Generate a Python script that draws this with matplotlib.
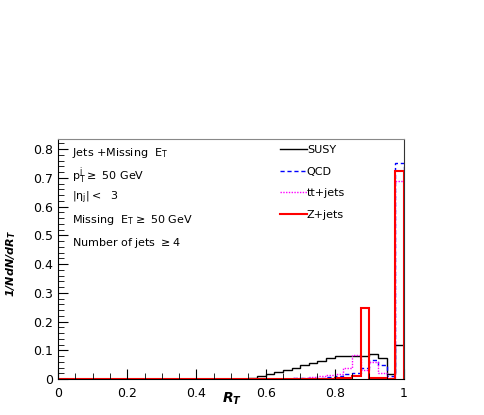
import numpy as np
import matplotlib.pyplot as plt
from matplotlib.ticker import MultipleLocator

# 40 bins of width 0.025 on R_T in [0, 1]
bin_edges = np.linspace(0.0, 1.0, 41)

# non-zero bins only, keyed by bin index
susy_bins = {21: 0.001, 22: 0.005, 23: 0.010, 24: 0.017, 25: 0.025, 26: 0.033,
             27: 0.040, 28: 0.048, 29: 0.056, 30: 0.064, 31: 0.072, 32: 0.080,
             33: 0.080, 34: 0.080, 35: 0.080, 36: 0.086, 37: 0.072, 38: 0.018,
             39: 0.120}
qcd_bins = {26: 0.001, 27: 0.002, 28: 0.003, 29: 0.004, 30: 0.005, 31: 0.008,
            32: 0.012, 33: 0.017, 34: 0.022, 35: 0.040, 36: 0.066, 37: 0.050,
            38: 0.012, 39: 0.750}
tt_bins = {27: 0.002, 28: 0.004, 29: 0.006, 30: 0.010, 31: 0.014, 32: 0.017,
           33: 0.037, 34: 0.085, 35: 0.030, 36: 0.060, 37: 0.020, 38: 0.005,
           39: 0.690}
zjets_bins = {31: 0.001, 32: 0.003, 33: 0.003, 34: 0.012, 35: 0.248, 36: 0.005,
              37: 0.004, 38: 0.001, 39: 0.722}

labels = ['SUSY', 'QCD', 'tt+jets', 'Z+jets']

info_lines = [r'Jets +Missing  E$_\mathrm{T}$',
              r'p$_\mathrm{T}^\mathrm{j}$$\geq$ 50 GeV',
              r'|$\mathrm{\eta}_\mathrm{j}$|$<$  3',
              r'Missing  E$_\mathrm{T}$$\geq$ 50 GeV',
              r'Number of jets $\geq$4']


def to_hist(bins):
    h = np.zeros(len(bin_edges) - 1)
    for k, v in bins.items():
        h[k] = v
    return h


plt.rcParams['mathtext.fontset'] = 'custom'
plt.rcParams['mathtext.it'] = 'DejaVu Sans:italic:bold'
plt.rcParams['mathtext.rm'] = 'DejaVu Sans'

fig = plt.figure(figsize=(4.85, 4.15), dpi=100)
ax = fig.add_axes([58/485, 1-379/415, 346/485, 240/415])

ax.stairs(to_hist(susy_bins), bin_edges, color='black', lw=1.0, label=labels[0], baseline=0)
ax.stairs(to_hist(qcd_bins), bin_edges, color='#0000ff', lw=1.0, ls=(0, (3, 2)), label=labels[1], baseline=0)
ax.stairs(to_hist(tt_bins), bin_edges, color='#ff00ff', lw=1.0, ls=(0, (1, 1)), label=labels[2], baseline=0)
ax.stairs(to_hist(zjets_bins), bin_edges, color='#ff0000', lw=1.5, label=labels[3], baseline=0)

ax.set_xlim(0, 1)
ax.set_ylim(0, 0.835)
ax.xaxis.set_major_locator(MultipleLocator(0.2))
ax.xaxis.set_minor_locator(MultipleLocator(0.05))
ax.yaxis.set_major_locator(MultipleLocator(0.1))
ax.yaxis.set_minor_locator(MultipleLocator(0.02))
ax.xaxis.set_major_formatter(plt.FuncFormatter(lambda v, p: f'{v:g}'))
ax.yaxis.set_major_formatter(plt.FuncFormatter(lambda v, p: f'{v:g}'))
ax.tick_params(which='both', direction='in', top=False, right=False, labelsize=9)
ax.tick_params(which='major', length=7, width=0.8)
ax.tick_params(which='minor', length=4, width=0.6)
ax.tick_params(axis='x', pad=6)
ax.spines['top'].set_color('#888888')
ax.spines['right'].set_color('#333333')
ax.spines['bottom'].set_color('black')

ax.set_xlabel(r'R$_T$', fontsize=10, fontstyle='italic', fontweight='bold')
ax.xaxis.set_label_coords(0.503, -0.05)
ax.set_ylabel(r'1/NdN/dR$_T$', fontsize=8, fontstyle='italic', fontweight='bold')
ax.yaxis.set_label_coords(-0.115, 0.48)

for i, line in enumerate(info_lines):
    ax.text(0.04, 0.94 - i * 0.093, line, transform=ax.transAxes, fontsize=8, va='center')

ax.legend(loc='upper left', bbox_to_anchor=(0.642, 0.975), frameon=False, fontsize=8,
          handlelength=2.4, handletextpad=0.0, labelspacing=1.05, borderpad=0,
          borderaxespad=0, handles=[plt.Line2D([], [], color=c, lw=w, ls=s) for c, w, s in
                                    [('black', 1.0, '-'), ('#0000ff', 1.0, (0, (3, 2))),
                                     ('#ff00ff', 1.0, (0, (1, 1))), ('#ff0000', 1.5, '-')]],
          labels=labels)

fig.savefig('out.png', dpi=100)
